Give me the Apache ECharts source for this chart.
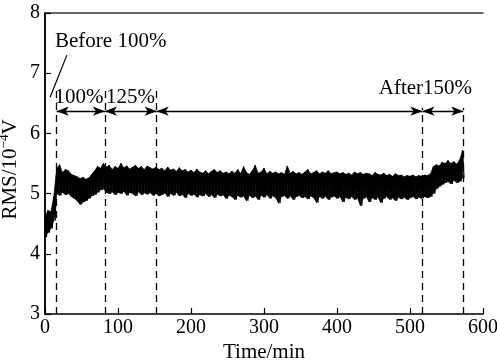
<!DOCTYPE html>
<html><head><meta charset="utf-8">
<script src="https://cdn.jsdelivr.net/npm/echarts@6/dist/echarts.min.js"></script>
<style>html,body{margin:0;padding:0;background:#fff}#c{width:497px;height:362px}</style>
</head><body><div id="c"></div>
<script>
// block start times step (min): each block has a high and a low reading
var blockStep = 4;
var hiVals = [4.62,4.72,4.70,4.95,5.42,5.48,5.35,5.40,5.38,5.32,5.30,5.28,5.25,5.27,5.24,5.26,5.32,5.38,5.45,5.42,
5.50,5.44,5.47,5.40,5.45,5.42,5.50,5.43,5.46,5.41,5.44,5.47,5.42,5.45,5.40,5.46,5.43,5.41,5.44,5.40,
5.42,5.38,5.44,5.39,5.41,5.37,5.43,5.38,5.40,5.36,5.39,5.35,5.41,5.36,5.34,5.38,5.33,5.37,5.40,5.35,
5.38,5.34,5.36,5.33,5.37,5.34,5.40,5.33,5.45,5.35,5.32,5.38,5.47,5.34,5.36,5.42,5.33,5.37,5.34,5.36,
5.33,5.35,5.32,5.46,5.34,5.37,5.33,5.35,5.32,5.36,5.40,5.33,5.35,5.38,5.33,5.36,5.34,5.38,5.33,5.35,
5.36,5.33,5.35,5.32,5.34,5.31,5.36,5.33,5.35,5.32,5.34,5.33,5.30,5.35,5.32,5.31,5.34,5.30,5.32,5.29,
5.33,5.30,5.31,5.28,5.30,5.29,5.31,5.28,5.30,5.29,5.31,5.30,5.33,5.45,5.48,5.46,5.52,5.50,5.55,5.50,
5.53,5.49,5.56,5.72];
var loVals = [4.28,4.35,4.42,4.55,5.00,4.97,5.02,4.98,5.00,4.95,4.92,4.88,4.82,4.86,4.88,4.92,4.96,4.98,5.02,5.06,
5.08,5.02,5.00,5.03,4.98,5.02,5.00,5.04,4.97,5.02,5.00,4.96,5.03,4.98,5.01,4.99,5.02,4.97,5.00,4.96,
4.98,5.01,4.95,5.00,4.97,5.02,4.96,4.99,4.93,5.00,4.97,4.99,4.94,4.98,4.96,5.00,4.95,4.98,4.93,4.99,
4.96,4.98,4.92,4.97,4.95,4.90,4.97,4.94,4.96,4.88,4.97,4.93,4.96,4.90,4.97,4.94,4.98,4.92,4.96,4.93,
4.84,4.95,4.97,4.92,4.96,4.90,4.95,4.97,4.93,4.95,4.91,4.96,4.93,4.85,4.95,4.92,4.96,4.90,4.94,4.96,
4.92,4.95,4.86,4.94,4.91,4.95,4.90,4.93,4.80,4.92,4.95,4.86,4.93,4.90,4.94,4.85,4.92,4.95,4.90,4.93,
4.88,4.94,4.91,4.94,4.90,4.93,4.95,4.91,4.94,4.92,4.95,4.93,4.95,5.00,5.08,5.12,5.15,5.18,5.20,5.16,
5.22,5.18,5.20,5.26];
// stage boundaries (min)
var stageTimes = [16, 82, 153, 517, 573];
var stageTopLeft = 6.75, stageTopRight = 6.42, arrowLevel = 6.37;
var xTicks = [0,100,200,300,400,500,600];
var yTicks = [3,4,5,6,7,8];
var labels = {before:'Before 100%', s100:'100%', s125:'125%', after:'After150%'};

var zig = [], band = [];
for (var k = 0; k < hiVals.length; k++) {
  zig.push([k*blockStep, hiVals[k]]);
  zig.push([k*blockStep + blockStep/2, loVals[k]]);
  band.push([k*blockStep, loVals[k], hiVals[k]]);
}
var FONT = 'Liberation Serif';
var chart = echarts.init(document.getElementById('c'), null, {renderer:'canvas'});
var dashData = stageTimes.map(function(t, i){
  return [{coord:[t,3]},{coord:[t, i<3 ? stageTopLeft : stageTopRight]}];
});
var arrowData = [];
for (var i = 0; i < stageTimes.length-1; i++) {
  arrowData.push([{coord:[stageTimes[i],arrowLevel]},{coord:[stageTimes[i+1],arrowLevel]}]);
}
function renderBand(params, api) {
  var i = params.dataIndex;
  if (i >= band.length - 1) return null;
  var a = band[i], b = band[i+1];
  return {type:'polygon', shape:{points:[api.coord([a[0],a[2]]), api.coord([b[0],b[2]]), api.coord([b[0],b[1]]), api.coord([a[0],a[1]])]},
    style:{fill:'#000', stroke:'#000', lineWidth:0.6}};
}
var axisLbl = {color:'#000', fontFamily:FONT, fontSize:20};
chart.setOption({
  animation:false,
  grid:{left:45, right:14, top:13, bottom:48, containLabel:false, outerBoundsMode:'none'},
  xAxis:[{type:'value', min:0, max:600, interval:100,
    axisLine:{lineStyle:{color:'#000', width:1.5}},
    axisTick:{inside:true, length:6, lineStyle:{color:'#000', width:1.2}},
    axisLabel:Object.assign({margin:4}, axisLbl),
    splitLine:{show:false},
    name:'Time/min', nameLocation:'middle', nameGap:28, nameMoveOverlap:false,
    nameTextStyle:{color:'#000', fontFamily:FONT, fontSize:21}},
   {type:'value', min:0, max:600, position:'top', axisLine:{lineStyle:{color:'#333', width:1.5}},
    axisTick:{show:false}, axisLabel:{show:false}, splitLine:{show:false}}],
  yAxis:[{type:'value', min:3, max:8, interval:1,
    axisLine:{lineStyle:{color:'#000', width:1.5}},
    axisTick:{inside:true, length:6, lineStyle:{color:'#000', width:1.2}},
    axisLabel:Object.assign({margin:5}, axisLbl),
    splitLine:{show:false},
    name:'{a|RMS/10}{s|−4}{a|V}', nameLocation:'middle', nameGap:22, nameMoveOverlap:false,
    nameTextStyle:{padding:[0,12,0,0], rich:{
      a:{color:'#000', fontFamily:FONT, fontSize:21},
      s:{color:'#000', fontFamily:FONT, fontSize:13, padding:[0,0,12,0]}}}},
   {type:'value', min:3, max:8, position:'right', axisLine:{show:true, lineStyle:{color:'#000', width:1.5}},
    axisTick:{show:false}, axisLabel:{show:false}, splitLine:{show:false}}],
  series:[
    {type:'custom', data:band, renderItem:renderBand, encode:{x:0, y:[1,2]}, silent:true},
    {type:'line', data:zig, showSymbol:false, symbol:'none', lineStyle:{color:'#000', width:1.2}, silent:true},
    {type:'line', data:[], markLine:{silent:true, symbol:['none','none'], label:{show:false},
      lineStyle:{color:'#000', width:1.3, type:[7,5]}, data:dashData}},
    {type:'line', data:[], markLine:{silent:true, symbol:['arrow','arrow'], symbolSize:[7,12], label:{show:false},
      lineStyle:{color:'#000', width:1.3, type:'solid'}, data:arrowData}},
    {type:'line', data:[], markLine:{silent:true, symbol:['none','none'], label:{show:false},
      lineStyle:{color:'#000', width:1.2, type:'solid'}, data:[[{coord:[7,6.6]},{coord:[30,7.3]}]]}}
  ]
});
function px(t,v){ return chart.convertToPixel({xAxisIndex:0, yAxisIndex:0}, [t,v]); }
function txt(t,v,s,align){ var p = px(t,v); return {type:'text', x:p[0], y:p[1], style:{text:s, fill:'#000', font:'21px "'+FONT+'"', align:align||'center', verticalAlign:'middle'}}; }
chart.setOption({graphic:[
  txt(13.7,7.52,labels.before,'left'),
  txt(46.6,6.6,labels.s100),
  txt(117,6.6,labels.s125),
  txt(585,6.75,labels.after,'right')
]});
</script></body></html>
